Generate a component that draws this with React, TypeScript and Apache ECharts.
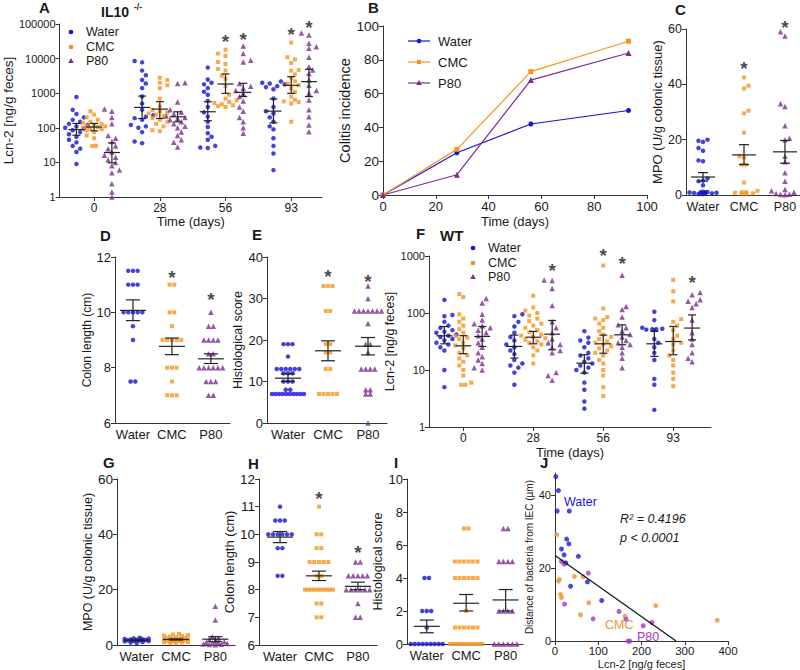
import React, { useEffect, useRef } from 'react';
import * as echarts from 'echarts';

const FONT = '"Liberation Sans", Arial, Helvetica, sans-serif';
const INK = '#1a1a1a';
const AXIS = '#333333';
const BLUE = '#1414d2';
const ORANGE = '#f7941d';
const PURPLE = '#7a2e8e';
const GROUP_COLORS = [BLUE, ORANGE, PURPLE];
const GROUP_SYMBOLS = ['circle', 'rect', 'triangle'];
const GROUP_SIZES = [4.5, 4, 5.5];
const GROUP_NAMES = ['Water', 'CMC', 'P80'];
const GROUP_SHIFT = [-0.27, 0, 0.27];

// ---------- A : IL10-/- Lcn-2 over time ----------
const timeLabels = ['0', '28', '56', '93'];
const aWater = [
  [780, 330, 250, 200, 170, 150, 130, 120, 110, 100, 95, 85, 75, 65, 55, 45, 38, 30, 25, 20, 9],
  [8500, 7800, 4500, 3300, 2400, 1900, 1400, 800, 500, 330, 230, 210, 190, 170, 120, 110, 100, 75, 40, 36],
  [5500, 2500, 2000, 1800, 1400, 1100, 900, 600, 400, 280, 210, 150, 105, 70, 55, 45, 30, 27, 26],
  [2200, 2000, 1900, 1800, 1600, 1500, 1300, 700, 400, 300, 260, 200, 150, 110, 90, 50, 30, 18, 6],
];
const aCmc = [
  [300, 240, 200, 170, 150, 140, 130, 120, 115, 110, 105, 100, 95, 90, 85, 75, 60, 50, 30, 30],
  [2800, 2400, 2000, 1700, 1400, 700, 420, 330, 300, 280, 260, 240, 220, 190, 170, 150, 130, 110, 85, 80],
  [18000, 14000, 12000, 8000, 7000, 5000, 4500, 3200, 2600, 1600, 900, 700, 620, 560, 520, 480, 450, 420, 400],
  [29000, 11000, 9500, 7500, 4700, 4500, 3500, 2800, 2200, 1900, 1700, 1400, 1100, 800, 650, 580, 550, 500, 150],
];
const aP80 = [
  [350, 300, 200, 130, 60, 50, 40, 30, 25, 20, 16, 14, 12, 10, 8, 6, 5, 2.4, 1.4, 1],
  [2000, 1900, 560, 330, 280, 250, 220, 200, 190, 170, 150, 130, 110, 100, 75, 60, 45, 38, 28],
  [23000, 14000, 9000, 8000, 1900, 1600, 1400, 1200, 1000, 800, 600, 400, 300, 200, 150, 100, 70],
  [55000, 48000, 28000, 22000, 20000, 11000, 5800, 4700, 3700, 2400, 1700, 1200, 1000, 640, 330, 210, 120, 77],
];
// [mean, lower SEM, upper SEM] per time point
const aWaterStats = [[89, 61, 134], [388, 186, 826], [291, 160, 570], [304, 139, 680]];
const aCmcStats = [[105, 82, 134], [347, 186, 570], [1845, 990, 3600], [1687, 990, 3000]];
const aP80Stats = [[19.3, 9.7, 36.6], [208, 149, 290], [1057, 800, 1930], [2155, 800, 4900]];
const aStars = [[2, 1, 42600], [2, 2, 48700], [3, 1, 67800], [3, 2, 108000]];

// ---------- B : colitis incidence ----------
const bDays = [0, 28, 56, 93];
const bWater = [0, 25, 42, 50];
const bCmc = [0, 27, 73, 91];
const bP80 = [0, 12, 68, 84];

// ---------- C : MPO IL10-/- ----------
const groupLabels = ['Water', 'CMC', 'P80'];
const cWater = [20, 19.6, 19.2, 17, 16, 12.5, 12.2, 6, 5.2, 5, 3.5, 1.2, 1.1, 1, 1, 0.9, 0.8, 0.7, 0.6, 0.5, 0.5, 0.4, 0.3];
const cCmc = [42.5, 39.5, 38.5, 30.5, 29.5, 22.5, 14, 13.6, 11, 11, 4.5, 1.5, 1, 1, 0.8, 0.6, 0.5, 0.5];
const cP80 = [59, 57.5, 33, 32, 25, 20.5, 20, 14, 12, 8, 5, 2, 1.5, 1, 0.5, 0.3, 0.2, 0.1];
const cStats = [[6.5, 5, 8.1], [14.5, 11, 18.2], [15.6, 11.5, 19.7]];
const cStars = [[1, 47.7], [2, 62.5]];

// ---------- D : colon length IL10-/- ----------
const dWater = [11.5, 11.5, 11.5, 11, 11, 11, 10, 10, 10, 10, 10, 9.5, 9, 7.5, 7.5];
const dCmc = [11, 11, 10, 10, 9.5, 9, 9, 9, 9, 9, 8, 8, 8, 7.5, 7, 7, 7];
const dP80 = [10, 9.5, 9.5, 9, 9, 9, 9, 8.5, 8.5, 8, 8, 8, 8, 8, 8, 7.5, 7.5, 7.5, 7, 7];
const dStats = [[10.07, 9.7, 10.45], [8.77, 8.47, 9.07], [8.32, 8.15, 8.5]];
const dStars = [[1, 11.43], [2, 10.63]];

// ---------- E : histological score IL10-/- ----------
const eWater = [19, 19, 19, 16, 13, 13, 13, 13, 13, 13, 12, 12, 12, 10, 10, 10, 8, 8, 7, 7, 7, 7, 7, 7, 7, 7, 7, 7];
const eCmc = [33, 33, 33, 27, 27, 19, 19, 17, 17, 13, 13, 7, 7, 7, 7, 7];
const eP80 = [33, 30, 27, 27, 27, 27, 27, 27, 27, 24, 19, 19, 17, 13, 13, 13, 13, 8, 8, 7, 7, 0];
const eStats = [[10.8, 10, 11.8], [17.4, 15, 19.8], [18.5, 16.4, 20.6]];
const eStars = [[1, 36.5], [2, 35.4]];

// ---------- F : WT Lcn-2 over time ----------
const fWater = [
  [170, 92, 88, 70, 60, 55, 50, 47, 45, 42, 40, 38, 35, 33, 30, 28, 25, 22, 10, 5],
  [95, 88, 70, 58, 45, 38, 33, 28, 25, 22, 19, 15, 13, 12, 11, 9, 5.5],
  [48, 37, 33, 30, 25, 20, 18, 16, 14, 13, 12, 11, 10, 9, 6, 4.5, 2.8, 2.1],
  [105, 75, 55, 53, 52, 52, 51, 50, 35, 30, 25, 20, 15, 7, 5.5, 2],
];
const fCmc = [
  [215, 190, 95, 80, 70, 60, 52, 45, 40, 37, 35, 30, 27, 24, 20, 18, 16, 14, 12, 10, 8, 6, 5.5, 5.5],
  [200, 125, 110, 100, 90, 80, 72, 65, 60, 55, 50, 46, 42, 40, 38, 36, 34, 32, 30, 28, 25, 22, 18, 13],
  [680, 120, 85, 80, 75, 65, 55, 48, 42, 38, 35, 32, 30, 28, 26, 24, 22, 20, 18, 15, 13, 10, 8, 5, 3.5],
  [380, 240, 160, 78, 70, 60, 50, 40, 35, 30, 28, 22, 18, 15, 12, 9, 7, 5.2],
];
const fP80 = [
  [180, 150, 95, 75, 65, 60, 55, 50, 45, 40, 35, 30, 25, 20, 17, 15, 13, 11, 10],
  [380, 370, 270, 135, 70, 55, 45, 35, 30, 28, 25, 22, 20, 9, 8, 6.6],
  [460, 130, 115, 85, 62, 55, 48, 42, 38, 33, 30, 28, 25, 20, 16, 11],
  [230, 210, 170, 160, 145, 125, 75, 45, 35, 28, 20, 16, 14],
];
const fWaterStats = [[39.8, 28.8, 58], [25.9, 16.2, 41], [13.2, 8.8, 18.5], [28.8, 17.3, 47.5]];
const fCmcStats = [[26.6, 19.3, 40], [37.6, 28.8, 47.5], [28.8, 19.7, 41], [31.6, 18.5, 58]];
const fP80Stats = [[38.8, 25.9, 58], [42.5, 22.6, 74], [41.4, 27.7, 62], [54.4, 33.8, 92.7]];
const fStars = [[1, 2, 695], [2, 1, 1240], [2, 2, 912], [3, 2, 417]];

// ---------- G : MPO WT ----------
const gWater = [2.6, 2.4, 2.3, 2.2, 2.1, 2, 1.9, 1.8, 1.7, 1.6, 1.5, 1.4, 1.3, 1.1, 0.9, 0.7];
const gCmc = [4, 3.8, 3.6, 3.4, 3.2, 3, 2.8, 2.6, 2.5, 2.4, 2.2, 2.1, 2, 1.9, 1.8, 1.7, 1.6, 1.5, 1.4, 1.2, 1.1, 1, 0.9, 0.8, 0.6];
const gP80 = [14, 9, 3, 2.5, 2, 1.5, 1.2, 1, 0.8, 0.6, 0.5, 0.4, 0.3, 0.2, 0.1];
const gStats = [[1.7, 1.5, 1.9], [2.0, 1.8, 2.2], [2.1, 1.2, 3.0]];

// ---------- H : colon length WT ----------
const hWater = [11, 10.5, 10.5, 10.5, 10, 10, 10, 10, 10, 10, 9.5, 9.5, 8.5, 8.5];
const hCmc = [11, 10, 10, 9.5, 9.5, 9, 9, 9, 9, 9, 8.5, 8.5, 8, 8, 8, 8, 8, 8, 8, 8, 8, 8, 7.5, 7.5, 7, 7];
const hP80 = [9, 9, 8.5, 8.5, 8.5, 8.5, 8.5, 8, 8, 8, 8, 8, 8, 7.5, 7, 7];
const hStats = [[9.9, 9.7, 10.1], [8.5, 8.33, 8.67], [8.12, 8.0, 8.27]];
const hStars = [[1, 11.49], [2, 9.52]];

// ---------- I : histological score WT ----------
const iWater = [4, 4, 2, 2, 2, 1, 0, 0, 0, 0, 0, 0, 0, 0, 0];
const iCmc = [7, 7, 5, 5, 5, 5, 5, 5, 4, 4, 4, 4, 4, 4, 2, 1, 1, 1, 1, 1, 1, 0, 0, 0, 0, 0, 0, 0, 0, 0, 0, 0, 0];
const iP80 = [7, 7, 5, 5, 5, 5, 2, 2, 2, 2, 0, 0, 0, 0, 0, 0];
const iStats = [[1.07, 0.68, 1.45], [2.47, 2.0, 3.0], [2.67, 2.0, 3.3]];

// ---------- J : distance vs Lcn-2 ----------
const jWater = [[2, 45], [8, 41.2], [5, 35.6], [33, 35.6], [27, 27.9], [32, 26.6], [15, 25.2], [21, 23.6], [54, 23.2], [25, 21.4], [36, 15], [75, 16.2], [108, 11.1]];
const jCmc = [[4, 29.1], [8, 16.4], [10, 16.9], [13, 12.8], [15, 11.9], [45, 17.7], [65, 17.6], [78, 10.5], [59, 7.2], [162, 6.8], [233, 9.7], [375, 5.7]];
const jP80 = [[15, 21.8], [21, 21.1], [77, 18.6], [22, 10.1], [88, 6.1], [148, 8.1], [164, 6], [169, 0], [173, 0], [204, 4.2], [224, 5.1]];
const jFit = [23.4, -0.0836]; // intercept, slope
const jColors = ['#1a1ae0', '#f0923a', '#a336d0'];

// ---------- layout ----------
type Panel = { left: number; top: number; width: number; height: number; xmin: number; xmax: number; ymin: number; ymax: number; log?: boolean };
const PANELS: Panel[] = [
  { left: 41, top: 24, width: 281, height: 173, xmin: -0.526, xmax: 3.469, ymin: 1, ymax: 100000, log: true }, // A
  { left: 383, top: 26, width: 264, height: 169, xmin: 0, xmax: 100, ymin: 0, ymax: 100 }, // B
  { left: 686, top: 29, width: 114, height: 166, xmin: -0.415, xmax: 2.366, ymin: 0, ymax: 60 }, // C
  { left: 115, top: 257, width: 115, height: 166, xmin: -0.46, xmax: 2.49, ymin: 6, ymax: 12 }, // D
  { left: 267, top: 257, width: 120, height: 166, xmin: -0.525, xmax: 2.475, ymin: 0, ymax: 40 }, // E
  { left: 429, top: 256, width: 282, height: 171, xmin: -0.49, xmax: 3.54, ymin: 1, ymax: 1000, log: true }, // F
  { left: 117, top: 479, width: 118, height: 166, xmin: -0.5, xmax: 2.5, ymin: 0, ymax: 60 }, // G
  { left: 259, top: 479, width: 118, height: 166, xmin: -0.54, xmax: 2.49, ymin: 6, ymax: 12 }, // H
  { left: 407, top: 479, width: 116, height: 165, xmin: -0.5, xmax: 2.44, ymin: 0, ymax: 10 }, // I
  { left: 555, top: 473, width: 173, height: 170, xmin: 0, xmax: 400, ymin: 0, ymax: 46 }, // J
];

function swarm(vals: number[], toPx: (v: number) => number, step: number, minDist: number, maxHalf: number): number[] {
  const n = vals.length;
  const order = vals.map((_, i) => i).sort((a, b) => vals[a] - vals[b]);
  const out = new Array(n).fill(0);
  const placed: number[][] = [];
  let k = 0;
  let flip = 1;
  while (k < n) {
    let j = k;
    while (j + 1 < n && vals[order[j + 1]] === vals[order[k]]) j++;
    const cnt = j - k + 1;
    const y = toPx(vals[order[k]]);
    if (cnt > 1) {
      const s = Math.min(step, (2 * maxHalf) / (cnt - 1));
      for (let t = 0; t < cnt; t++) {
        const dx = (t - (cnt - 1) / 2) * s;
        out[order[k + t]] = dx;
        placed.push([dx, y]);
      }
    } else {
      let best = 0;
      let bestScore = -1;
      for (let c = 0; ; c++) {
        const dx = c === 0 ? 0 : (c % 2 ? flip : -flip) * Math.ceil(c / 2) * step;
        if (Math.abs(dx) > maxHalf) break;
        let md = Infinity;
        for (const p of placed) md = Math.min(md, Math.hypot(p[0] - dx, p[1] - y));
        if (md >= minDist) { best = dx; break; }
        if (md > bestScore) { bestScore = md; best = dx; }
      }
      out[order[k]] = best;
      placed.push([best, y]);
      flip = -flip;
    }
    k = j + 1;
  }
  return out;
}

type Sw = { step: number; minDist: number; maxHalf: number };
function dotSeries(pi: number, cols: { x: number; g: number; vals: number[] }[], sw: Sw) {
  const p = PANELS[pi];
  const pxX = p.width / (p.xmax - p.xmin);
  const pxY = p.log ? p.height / Math.log10(p.ymax / p.ymin) : p.height / (p.ymax - p.ymin);
  const toPx = p.log ? (v: number) => Math.log10(v) * pxY : (v: number) => v * pxY;
  return cols.map((c) => {
    const offs = swarm(c.vals, toPx, sw.step, sw.minDist, sw.maxHalf);
    return {
      type: 'scatter', name: GROUP_NAMES[c.g], xAxisIndex: pi, yAxisIndex: pi, silent: true, clip: false, z: 3,
      symbol: GROUP_SYMBOLS[c.g], symbolSize: GROUP_SIZES[c.g],
      itemStyle: { color: GROUP_COLORS[c.g] },
      data: c.vals.map((v, i) => [c.x + offs[i] / pxX, v]),
    };
  });
}

function statSeries(pi: number, data: number[][], half: number, cap: number) {
  return {
    type: 'custom', xAxisIndex: pi, yAxisIndex: pi, silent: true, clip: false, z: 5,
    encode: { x: 0, y: 1 },
    renderItem: (_params: any, api: any) => {
      const x = api.value(0);
      const m = api.coord([x, api.value(1)]);
      const lo = api.coord([x, api.value(2)]);
      const hi = api.coord([x, api.value(3)]);
      const st = { stroke: '#222', lineWidth: 1.2 };
      return {
        type: 'group',
        children: [
          { type: 'line', shape: { x1: m[0] - half, y1: m[1], x2: m[0] + half, y2: m[1] }, style: st },
          { type: 'line', shape: { x1: lo[0], y1: lo[1], x2: hi[0], y2: hi[1] }, style: st },
          { type: 'line', shape: { x1: lo[0] - cap, y1: lo[1], x2: lo[0] + cap, y2: lo[1] }, style: st },
          { type: 'line', shape: { x1: hi[0] - cap, y1: hi[1], x2: hi[0] + cap, y2: hi[1] }, style: st },
        ],
      };
    },
    data,
  };
}

function starSeries(pi: number, pts: number[][]) {
  return {
    type: 'scatter', xAxisIndex: pi, yAxisIndex: pi, silent: true, clip: false, z: 6,
    symbolSize: 1, itemStyle: { color: 'rgba(0,0,0,0)' },
    label: { show: true, formatter: '*', position: 'inside', fontSize: 19, fontWeight: 'bold', color: INK, fontFamily: FONT, offset: [0, 5] },
    data: pts,
  };
}

const axLine = { show: true, onZero: false, lineStyle: { color: AXIS, width: 1 } };
const noSplit = { show: false };

function yAxisFor(pi: number, name: string, nameGap: number, opts: any) {
  const p = PANELS[pi];
  return {
    type: p.log ? 'log' : 'value', logBase: 10, gridIndex: pi, min: p.ymin, max: p.ymax,
    axisLine: axLine, splitLine: noSplit,
    axisTick: { show: true, length: 4, lineStyle: { color: AXIS } },
    name, nameLocation: 'middle', nameGap,
    nameTextStyle: { fontSize: opts.nameSize, color: INK, fontFamily: FONT },
    ...opts.extra,
    axisLabel: { fontSize: opts.labelSize, color: INK, fontFamily: FONT, margin: 4, ...(opts.label || {}) },
  };
}

function xCatAxis(pi: number, labels: string[], fontSize: number, extra: any = {}) {
  const p = PANELS[pi];
  const vals = labels.map((_, i) => i);
  return {
    type: 'value', gridIndex: pi, min: p.xmin, max: p.xmax,
    axisLine: axLine, splitLine: noSplit,
    axisTick: { show: !!extra.ticks, customValues: vals, length: 4, lineStyle: { color: AXIS } },
    axisLabel: { customValues: vals, formatter: (v: number) => labels[Math.round(v)] ?? '', fontSize, color: INK, fontFamily: FONT, margin: 5 },
    ...(extra.name ? { name: extra.name, nameLocation: 'middle', nameGap: extra.nameGap, nameTextStyle: { fontSize: 13, color: INK, fontFamily: FONT } } : {}),
  };
}

function timeCols(water: number[][], cmc: number[][], p80: number[][]) {
  const cols: { x: number; g: number; vals: number[] }[] = [];
  [water, cmc, p80].forEach((arr, g) => arr.forEach((vals, t) => cols.push({ x: t + GROUP_SHIFT[g], g, vals })));
  return cols;
}
function timeStats(w: number[][], c: number[][], p: number[][]) {
  const out: number[][] = [];
  [w, c, p].forEach((arr, g) => arr.forEach((s, t) => out.push([t + GROUP_SHIFT[g], s[0], s[1], s[2]])));
  return out;
}
function groupCols(w: number[], c: number[], p: number[]) {
  return [w, c, p].map((vals, g) => ({ x: g, g, vals }));
}
function groupStats(s: number[][]) {
  return s.map((r, g) => [g, r[0], r[1], r[2]]);
}

function txt(text: string, x: number, y: number, font: string, fill = INK, align = 'left') {
  return { type: 'text', x, y, silent: true, style: { text, font, fill, align, textAlign: align, verticalAlign: 'middle', textVerticalAlign: 'middle' } };
}
function marker(g: number, x: number, y: number, colors = GROUP_COLORS) {
  if (g === 0) return { type: 'circle', silent: true, shape: { cx: x, cy: y, r: 2.3 }, style: { fill: colors[0] } };
  if (g === 1) return { type: 'rect', silent: true, shape: { x: x - 2, y: y - 2, width: 4, height: 4 }, style: { fill: colors[1] } };
  return { type: 'polygon', silent: true, shape: { points: [[x, y - 3], [x + 2.8, y + 2], [x - 2.8, y + 2]] }, style: { fill: colors[2] } };
}

function buildOption() {
  const bold = (s: number) => `bold ${s}px ${FONT}`;
  const reg = (s: number) => `${s}px ${FONT}`;
  const ital = (s: number) => `italic ${s}px ${FONT}`;

  const graphics: any[] = [
    txt('A', 39, 7, bold(15)), txt('IL10', 101, 12, bold(14)), txt('-/-', 134, 7, bold(8.5)),
    txt('B', 368, 7, bold(15)), txt('C', 675, 9, bold(15)),
    txt('D', 100, 235, bold(15)), txt('E', 252, 234, bold(15)),
    txt('F', 416, 233, bold(15)), txt('WT', 440, 235.5, bold(15)),
    txt('G', 103, 462, bold(15)), txt('H', 248, 463, bold(15)), txt('I', 394, 462, bold(15)), txt('J', 540, 462, bold(15)),
  ];
  // legend A
  [32, 47, 61].forEach((y, g) => { graphics.push(marker(g, 71, y)); graphics.push(txt(GROUP_NAMES[g], 86, y, reg(12.5))); });
  // legend F
  [248, 263, 277].forEach((y, g) => { graphics.push(marker(g, 473, y)); graphics.push(txt(GROUP_NAMES[g], 488, y, reg(12.5))); });
  // legend B
  [41, 62, 83].forEach((y, g) => {
    graphics.push({ type: 'line', silent: true, shape: { x1: 408, y1: y, x2: 430, y2: y }, style: { stroke: GROUP_COLORS[g], lineWidth: 1.2 } });
    graphics.push(marker(g, 419, y));
    graphics.push(txt(GROUP_NAMES[g], 438, y, reg(13)));
  });
  // J annotations
  graphics.push(txt('Water', 564, 502, reg(12.5), jColors[0]));
  graphics.push(txt('CMC', 605, 625, reg(12.5), jColors[1]));
  graphics.push(txt('P80', 637, 637, reg(12.5), jColors[2]));
  graphics.push(txt('R² = 0.4196', 620, 519, ital(12.5)));
  graphics.push(txt('p < 0.0001', 620, 538, ital(12.5)));

  const series: any[] = [];
  // A
  series.push(...dotSeries(0, timeCols(aWater, aCmc, aP80), { step: 4, minDist: 5, maxHalf: 12 }));
  series.push(statSeries(0, timeStats(aWaterStats, aCmcStats, aP80Stats), 8, 4));
  series.push(starSeries(0, aStars.map((s) => [s[0] + GROUP_SHIFT[s[1]], s[2]])));
  // B
  [bWater, bCmc, bP80].forEach((arr, g) => series.push({
    type: 'line', name: GROUP_NAMES[g], xAxisIndex: 1, yAxisIndex: 1, silent: true,
    symbol: GROUP_SYMBOLS[g], symbolSize: g === 2 ? 6 : 5, showSymbol: true,
    lineStyle: { color: GROUP_COLORS[g], width: 1.2 }, itemStyle: { color: GROUP_COLORS[g] },
    data: bDays.map((d, i) => [d, arr[i]]),
  }));
  // C
  series.push(...dotSeries(2, groupCols(cWater, cCmc, cP80), { step: 4.5, minDist: 4.5, maxHalf: 14 }));
  series.push(statSeries(2, groupStats(cStats), 12, 5));
  series.push(starSeries(2, cStars));
  // D
  series.push(...dotSeries(3, groupCols(dWater, dCmc, dP80), { step: 4.7, minDist: 4.5, maxHalf: 14 }));
  series.push(statSeries(3, groupStats(dStats), 13, 7));
  series.push(starSeries(3, dStars));
  // E
  series.push(...dotSeries(4, groupCols(eWater, eCmc, eP80), { step: 4.5, minDist: 4.5, maxHalf: 16 }));
  series.push(statSeries(4, groupStats(eStats), 13, 7));
  series.push(starSeries(4, eStars));
  // F
  series.push(...dotSeries(5, timeCols(fWater, fCmc, fP80), { step: 4, minDist: 5, maxHalf: 12 }));
  series.push(statSeries(5, timeStats(fWaterStats, fCmcStats, fP80Stats), 8, 4));
  series.push(starSeries(5, fStars.map((s) => [s[0] + GROUP_SHIFT[s[1]], s[2]])));
  // G
  series.push(...dotSeries(6, groupCols(gWater, gCmc, gP80), { step: 3, minDist: 4, maxHalf: 12 }));
  series.push(statSeries(6, groupStats(gStats), 13, 7));
  // H
  series.push(...dotSeries(7, groupCols(hWater, hCmc, hP80), { step: 4.7, minDist: 4.5, maxHalf: 14 }));
  series.push(statSeries(7, groupStats(hStats), 13, 7));
  series.push(starSeries(7, hStars));
  // I
  series.push(...dotSeries(8, groupCols(iWater, iCmc, iP80), { step: 4.5, minDist: 4.5, maxHalf: 16 }));
  series.push(statSeries(8, groupStats(iStats), 13, 7));
  // J
  [jWater, jCmc, jP80].forEach((arr, g) => series.push({
    type: 'scatter', name: GROUP_NAMES[g], xAxisIndex: 9, yAxisIndex: 9, silent: true, clip: false,
    symbol: 'circle', symbolSize: 5, itemStyle: { color: jColors[g] }, data: arr,
  }));
  series.push({
    type: 'line', xAxisIndex: 9, yAxisIndex: 9, silent: true, symbol: 'none',
    lineStyle: { color: '#111', width: 1.2 },
    data: [[0, jFit[0]], [-jFit[0] / jFit[1], 0]],
  });

  const logFmt = (v: number) => String(Math.round(v));
  const yAxes = [
    yAxisFor(0, 'Lcn-2 [ng/g feces]', 30, { nameSize: 13.5, labelSize: 11, label: { formatter: logFmt } }),
    yAxisFor(1, 'Colitis incidence', 26, { nameSize: 14.5, labelSize: 13.5, extra: { interval: 20 } }),
    yAxisFor(2, 'MPO (U/g colonic tissue)', 20, { nameSize: 13, labelSize: 12.5, extra: { interval: 20 } }),
    yAxisFor(3, 'Colon length (cm)', 22, { nameSize: 12, labelSize: 13, extra: { interval: 2 } }),
    yAxisFor(4, 'Histological score', 17, { nameSize: 12.5, labelSize: 13, extra: { interval: 10 } }),
    yAxisFor(5, 'Lcn-2 [ng/g feces]', 32, { nameSize: 12.5, labelSize: 11, label: { formatter: logFmt } }),
    yAxisFor(6, 'MPO (U/g colonic tissue)', 20, { nameSize: 12.5, labelSize: 13.5, extra: { interval: 20 } }),
    yAxisFor(7, 'Colon length (cm)', 19, { nameSize: 13, labelSize: 13.5, extra: { interval: 1 } }),
    yAxisFor(8, 'Histological score', 20, { nameSize: 12.5, labelSize: 13, extra: { interval: 2 } }),
    yAxisFor(9, 'Distance of bacteria from IEC (µm)', 18, {
      nameSize: 10, labelSize: 11,
      extra: { axisTick: { show: true, length: 4, customValues: [0, 20, 40], lineStyle: { color: AXIS } } },
      label: { customValues: [0, 20, 40] },
    }),
  ];
  const xAxes = [
    xCatAxis(0, timeLabels, 12, { ticks: true, name: 'Time (days)', nameGap: 18 }),
    {
      type: 'value', gridIndex: 1, min: 0, max: 100, interval: 20, axisLine: axLine, splitLine: noSplit,
      axisTick: { show: true, length: 4, lineStyle: { color: AXIS } },
      axisLabel: { fontSize: 13, color: INK, fontFamily: FONT, margin: 5 },
      name: 'Time (days)', nameLocation: 'middle', nameGap: 20, nameTextStyle: { fontSize: 13, color: INK, fontFamily: FONT },
    },
    xCatAxis(2, groupLabels, 12.5),
    xCatAxis(3, groupLabels, 13),
    xCatAxis(4, groupLabels, 13),
    xCatAxis(5, timeLabels, 12, { ticks: true, name: 'Time (days)', nameGap: 19 }),
    xCatAxis(6, groupLabels, 13),
    xCatAxis(7, groupLabels, 13),
    xCatAxis(8, groupLabels, 13),
    {
      type: 'value', gridIndex: 9, min: 0, max: 400, interval: 100, axisLine: axLine, splitLine: noSplit,
      axisTick: { show: true, length: 4, lineStyle: { color: AXIS } },
      axisLabel: { fontSize: 11.5, color: INK, fontFamily: FONT, margin: 4 },
      name: 'Lcn-2 [ng/g feces]', nameLocation: 'middle', nameGap: 15, nameTextStyle: { fontSize: 11, color: INK, fontFamily: FONT },
    },
  ];

  return {
    animation: false,
    backgroundColor: '#ffffff',
    textStyle: { fontFamily: FONT },
    grid: PANELS.map((p) => ({ left: p.left, top: p.top, width: p.width, height: p.height, containLabel: false })),
    xAxis: xAxes,
    yAxis: yAxes,
    series,
    graphic: { elements: graphics },
  };
}

export default function App() {
  const ref = useRef<HTMLDivElement>(null);
  useEffect(() => {
    if (!ref.current) return;
    const chart = echarts.init(ref.current, undefined, { renderer: 'svg' });
    chart.setOption(buildOption() as any);
    return () => chart.dispose();
  }, []);
  return <div ref={ref} style={{ position: 'absolute', left: 0, top: 0, width: 800, height: 670, background: '#fff' }} />;
}
